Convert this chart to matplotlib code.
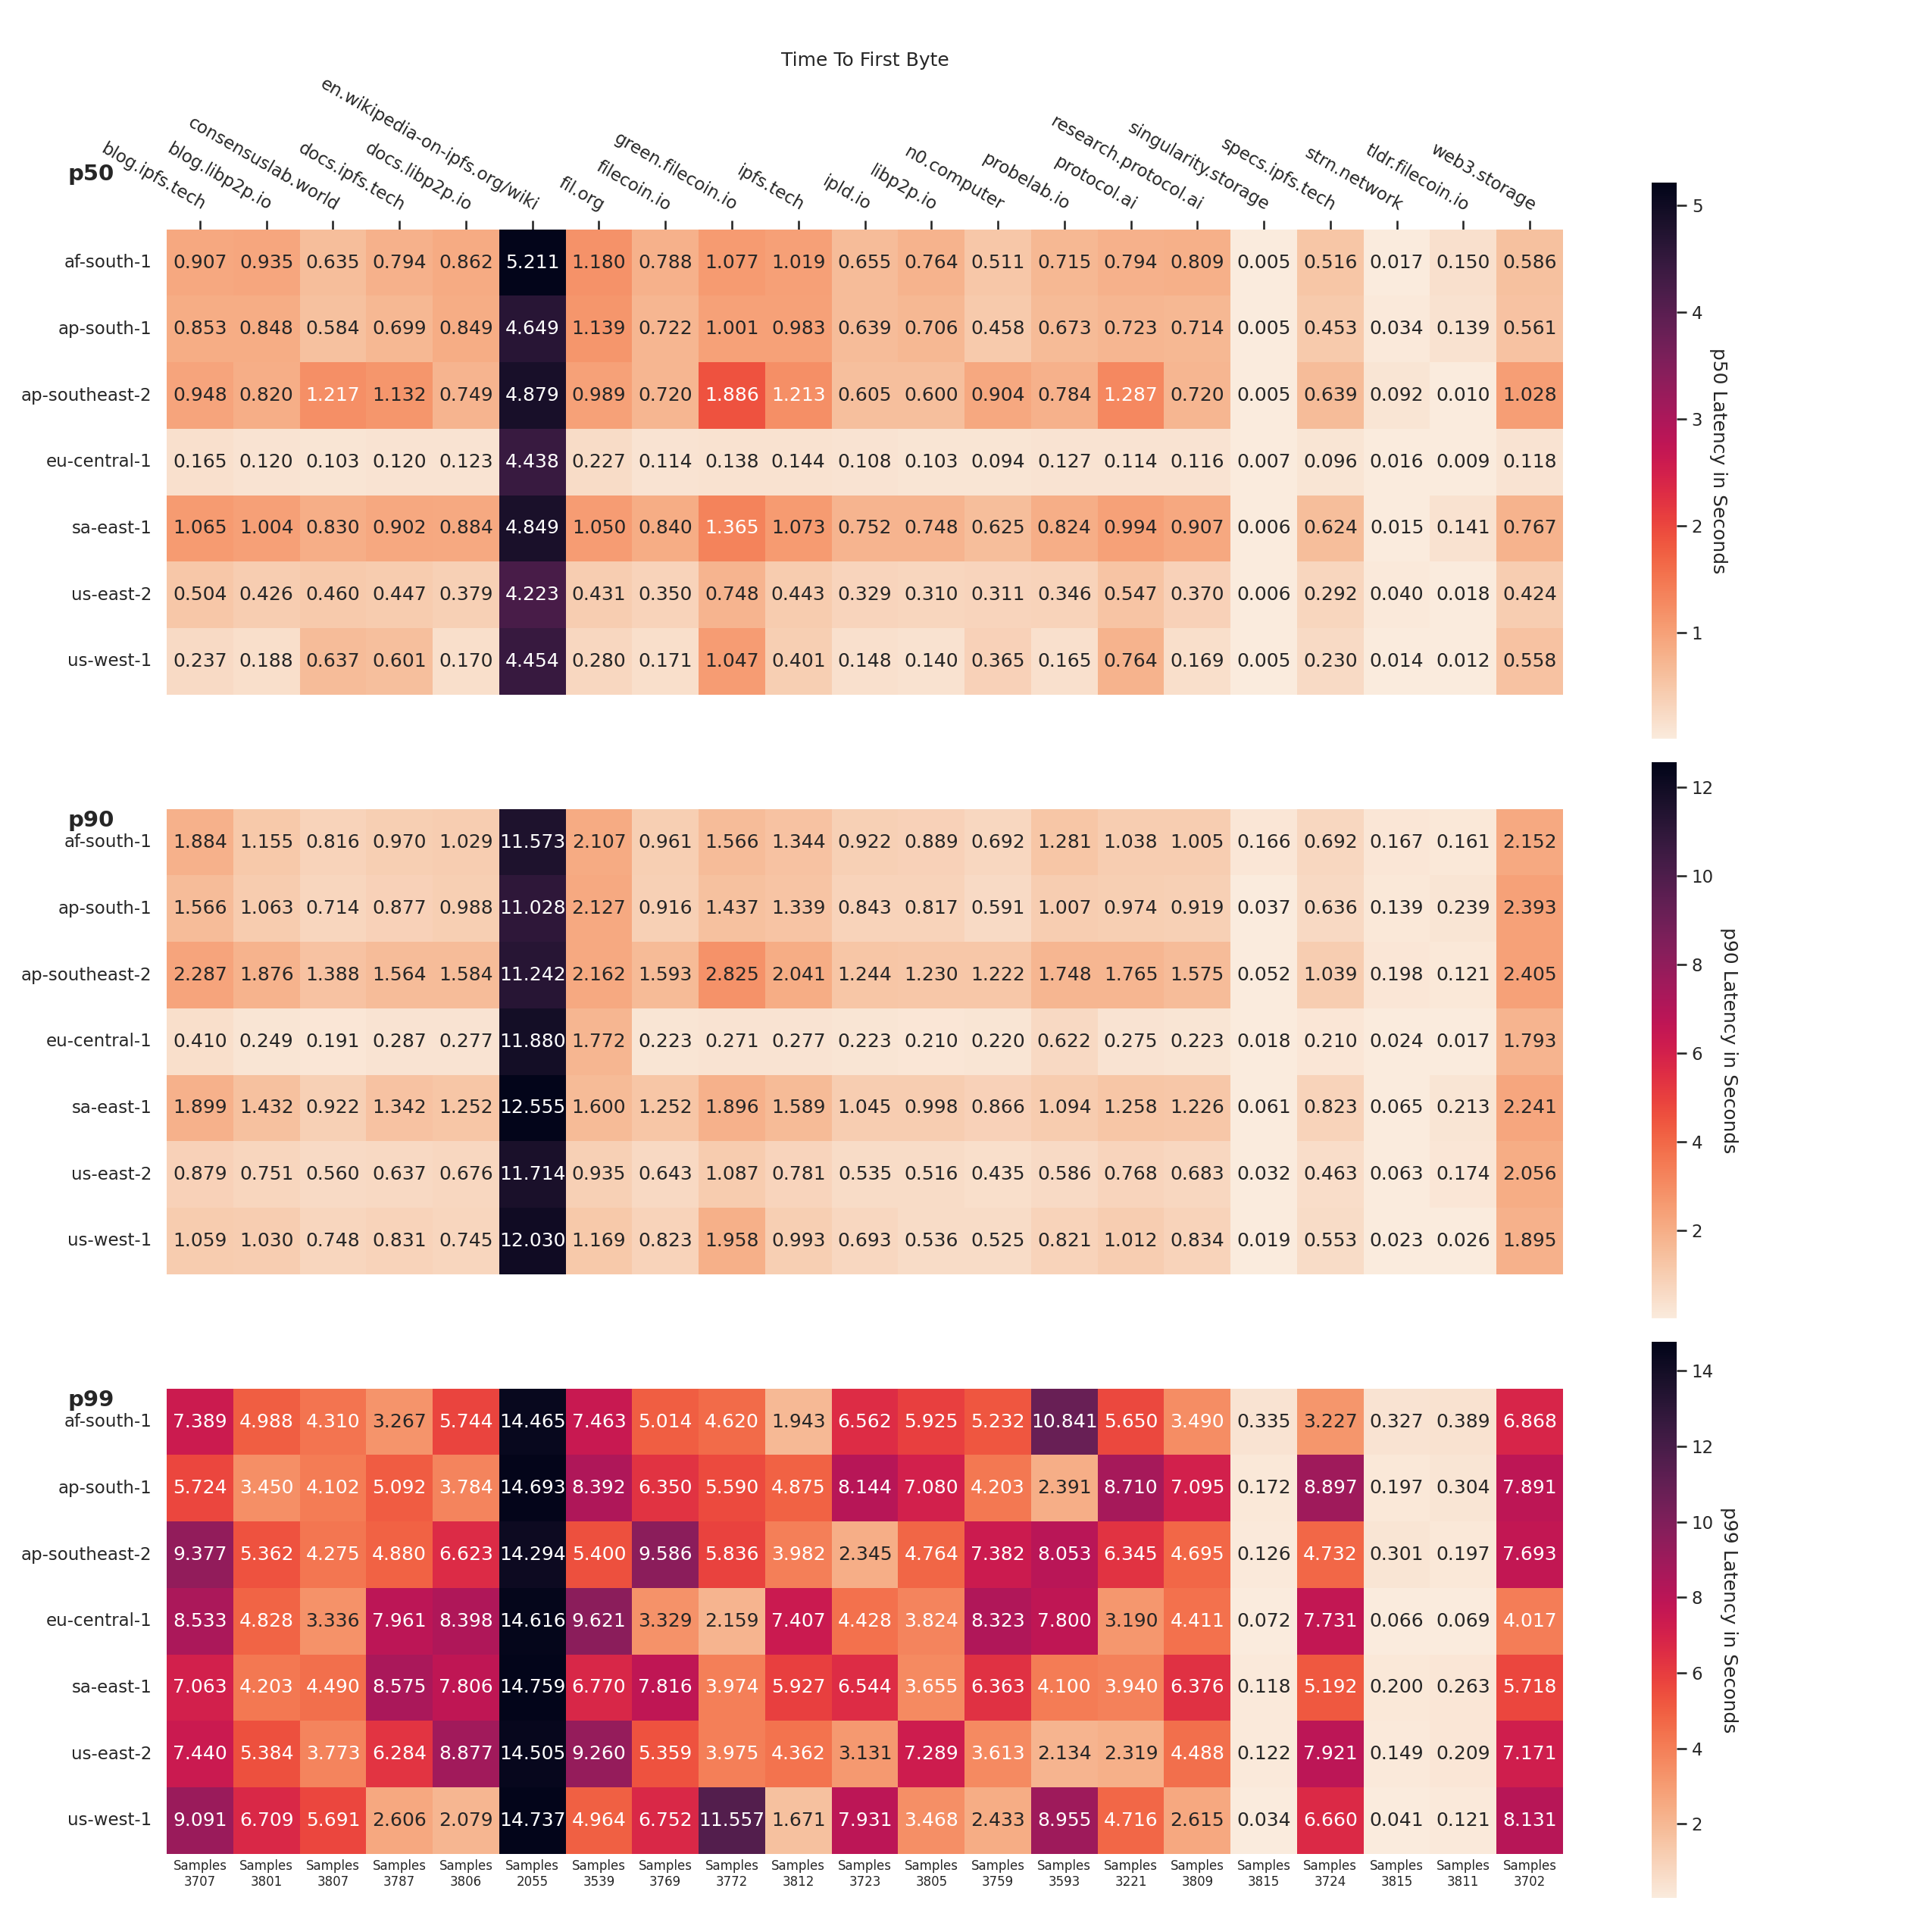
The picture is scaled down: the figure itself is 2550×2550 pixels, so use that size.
import matplotlib
matplotlib.use("Agg")
import matplotlib.pyplot as plt
import pandas as pd
import seaborn as sns

regions = ["af-south-1", "ap-south-1", "ap-southeast-2", "eu-central-1",
           "sa-east-1", "us-east-2", "us-west-1"]
sites = ["blog.ipfs.tech", "blog.libp2p.io", "consensuslab.world", "docs.ipfs.tech",
         "docs.libp2p.io", "en.wikipedia-on-ipfs.org/wiki", "fil.org", "filecoin.io",
         "green.filecoin.io", "ipfs.tech", "ipld.io", "libp2p.io", "n0.computer",
         "probelab.io", "protocol.ai", "research.protocol.ai", "singularity.storage",
         "specs.ipfs.tech", "strn.network", "tldr.filecoin.io", "web3.storage"]
samples = [3707, 3801, 3807, 3787, 3806, 2055, 3539, 3769, 3772, 3812, 3723,
           3805, 3759, 3593, 3221, 3809, 3815, 3724, 3815, 3811, 3702]

p50 = [
    [0.907, 0.935, 0.635, 0.794, 0.862, 5.211, 1.180, 0.788, 1.077, 1.019, 0.655, 0.764, 0.511, 0.715, 0.794, 0.809, 0.005, 0.516, 0.017, 0.150, 0.586],
    [0.853, 0.848, 0.584, 0.699, 0.849, 4.649, 1.139, 0.722, 1.001, 0.983, 0.639, 0.706, 0.458, 0.673, 0.723, 0.714, 0.005, 0.453, 0.034, 0.139, 0.561],
    [0.948, 0.820, 1.217, 1.132, 0.749, 4.879, 0.989, 0.720, 1.886, 1.213, 0.605, 0.600, 0.904, 0.784, 1.287, 0.720, 0.005, 0.639, 0.092, 0.010, 1.028],
    [0.165, 0.120, 0.103, 0.120, 0.123, 4.438, 0.227, 0.114, 0.138, 0.144, 0.108, 0.103, 0.094, 0.127, 0.114, 0.116, 0.007, 0.096, 0.016, 0.009, 0.118],
    [1.065, 1.004, 0.830, 0.902, 0.884, 4.849, 1.050, 0.840, 1.365, 1.073, 0.752, 0.748, 0.625, 0.824, 0.994, 0.907, 0.006, 0.624, 0.015, 0.141, 0.767],
    [0.504, 0.426, 0.460, 0.447, 0.379, 4.223, 0.431, 0.350, 0.748, 0.443, 0.329, 0.310, 0.311, 0.346, 0.547, 0.370, 0.006, 0.292, 0.040, 0.018, 0.424],
    [0.237, 0.188, 0.637, 0.601, 0.170, 4.454, 0.280, 0.171, 1.047, 0.401, 0.148, 0.140, 0.365, 0.165, 0.764, 0.169, 0.005, 0.230, 0.014, 0.012, 0.558],
]
p90 = [
    [1.884, 1.155, 0.816, 0.970, 1.029, 11.573, 2.107, 0.961, 1.566, 1.344, 0.922, 0.889, 0.692, 1.281, 1.038, 1.005, 0.166, 0.692, 0.167, 0.161, 2.152],
    [1.566, 1.063, 0.714, 0.877, 0.988, 11.028, 2.127, 0.916, 1.437, 1.339, 0.843, 0.817, 0.591, 1.007, 0.974, 0.919, 0.037, 0.636, 0.139, 0.239, 2.393],
    [2.287, 1.876, 1.388, 1.564, 1.584, 11.242, 2.162, 1.593, 2.825, 2.041, 1.244, 1.230, 1.222, 1.748, 1.765, 1.575, 0.052, 1.039, 0.198, 0.121, 2.405],
    [0.410, 0.249, 0.191, 0.287, 0.277, 11.880, 1.772, 0.223, 0.271, 0.277, 0.223, 0.210, 0.220, 0.622, 0.275, 0.223, 0.018, 0.210, 0.024, 0.017, 1.793],
    [1.899, 1.432, 0.922, 1.342, 1.252, 12.555, 1.600, 1.252, 1.896, 1.589, 1.045, 0.998, 0.866, 1.094, 1.258, 1.226, 0.061, 0.823, 0.065, 0.213, 2.241],
    [0.879, 0.751, 0.560, 0.637, 0.676, 11.714, 0.935, 0.643, 1.087, 0.781, 0.535, 0.516, 0.435, 0.586, 0.768, 0.683, 0.032, 0.463, 0.063, 0.174, 2.056],
    [1.059, 1.030, 0.748, 0.831, 0.745, 12.030, 1.169, 0.823, 1.958, 0.993, 0.693, 0.536, 0.525, 0.821, 1.012, 0.834, 0.019, 0.553, 0.023, 0.026, 1.895],
]
p99 = [
    [7.389, 4.988, 4.310, 3.267, 5.744, 14.465, 7.463, 5.014, 4.620, 1.943, 6.562, 5.925, 5.232, 10.841, 5.650, 3.490, 0.335, 3.227, 0.327, 0.389, 6.868],
    [5.724, 3.450, 4.102, 5.092, 3.784, 14.693, 8.392, 6.350, 5.590, 4.875, 8.144, 7.080, 4.203, 2.391, 8.710, 7.095, 0.172, 8.897, 0.197, 0.304, 7.891],
    [9.377, 5.362, 4.275, 4.880, 6.623, 14.294, 5.400, 9.586, 5.836, 3.982, 2.345, 4.764, 7.382, 8.053, 6.345, 4.695, 0.126, 4.732, 0.301, 0.197, 7.693],
    [8.533, 4.828, 3.336, 7.961, 8.398, 14.616, 9.621, 3.329, 2.159, 7.407, 4.428, 3.824, 8.323, 7.800, 3.190, 4.411, 0.072, 7.731, 0.066, 0.069, 4.017],
    [7.063, 4.203, 4.490, 8.575, 7.806, 14.759, 6.770, 7.816, 3.974, 5.927, 6.544, 3.655, 6.363, 4.100, 3.940, 6.376, 0.118, 5.192, 0.200, 0.263, 5.718],
    [7.440, 5.384, 3.773, 6.284, 8.877, 14.505, 9.260, 5.359, 3.975, 4.362, 3.131, 7.289, 3.613, 2.134, 2.319, 4.488, 0.122, 7.921, 0.149, 0.209, 7.171],
    [9.091, 6.709, 5.691, 2.606, 2.079, 14.737, 4.964, 6.752, 11.557, 1.671, 7.931, 3.468, 2.433, 8.955, 4.716, 2.615, 0.034, 6.660, 0.041, 0.121, 8.131],
]

sns.set_theme(style="ticks")
fig = plt.figure(figsize=(17, 17), dpi=150)

panels = [("p50", p50), ("p90", p90), ("p99", p99)]
W = 2550.0
for i, (name, vals) in enumerate(panels):
    y0 = 0.6405 - 0.3 * i
    ax = fig.add_axes([220 / W, y0, 1843 / W, 614 / W])
    cax = fig.add_axes([2180 / W, y0 - 0.023, 33 / W, 734 / W])
    df = pd.DataFrame(vals, index=regions, columns=sites)
    sns.heatmap(df, ax=ax, cbar_ax=cax, annot=True, fmt=".3f", cmap="rocket_r")

    ax.set_yticklabels(regions, rotation=0)
    ax.tick_params(axis="y", left=False)
    ax.set_xlabel("")
    ax.set_ylabel("")

    if i == 0:
        ax.xaxis.tick_top()
        ax.set_xticklabels(sites, rotation=-30, ha="right", rotation_mode="anchor")
        ax.tick_params(axis="x", top=True, bottom=False)
        ax.set_title("Time To First Byte")
    elif i == 1:
        ax.tick_params(axis="x", bottom=False, labelbottom=False)
    else:
        ax.set_xticklabels([f"Samples\n{n}" for n in samples], rotation=0, fontsize=8)
        ax.tick_params(axis="x", length=0)

    cbar = ax.collections[0].colorbar
    cbar.set_label(f"{name} Latency in Seconds", rotation=270, va="bottom")

# bold panel names on the left
for name, top in zip(["p50", "p90", "p99"], [216, 1069, 1834]):
    fig.text(90 / W, 1 - top / W, name, fontsize=14, fontweight="bold", va="top", ha="left")

fig.savefig("out.png", dpi=150)
